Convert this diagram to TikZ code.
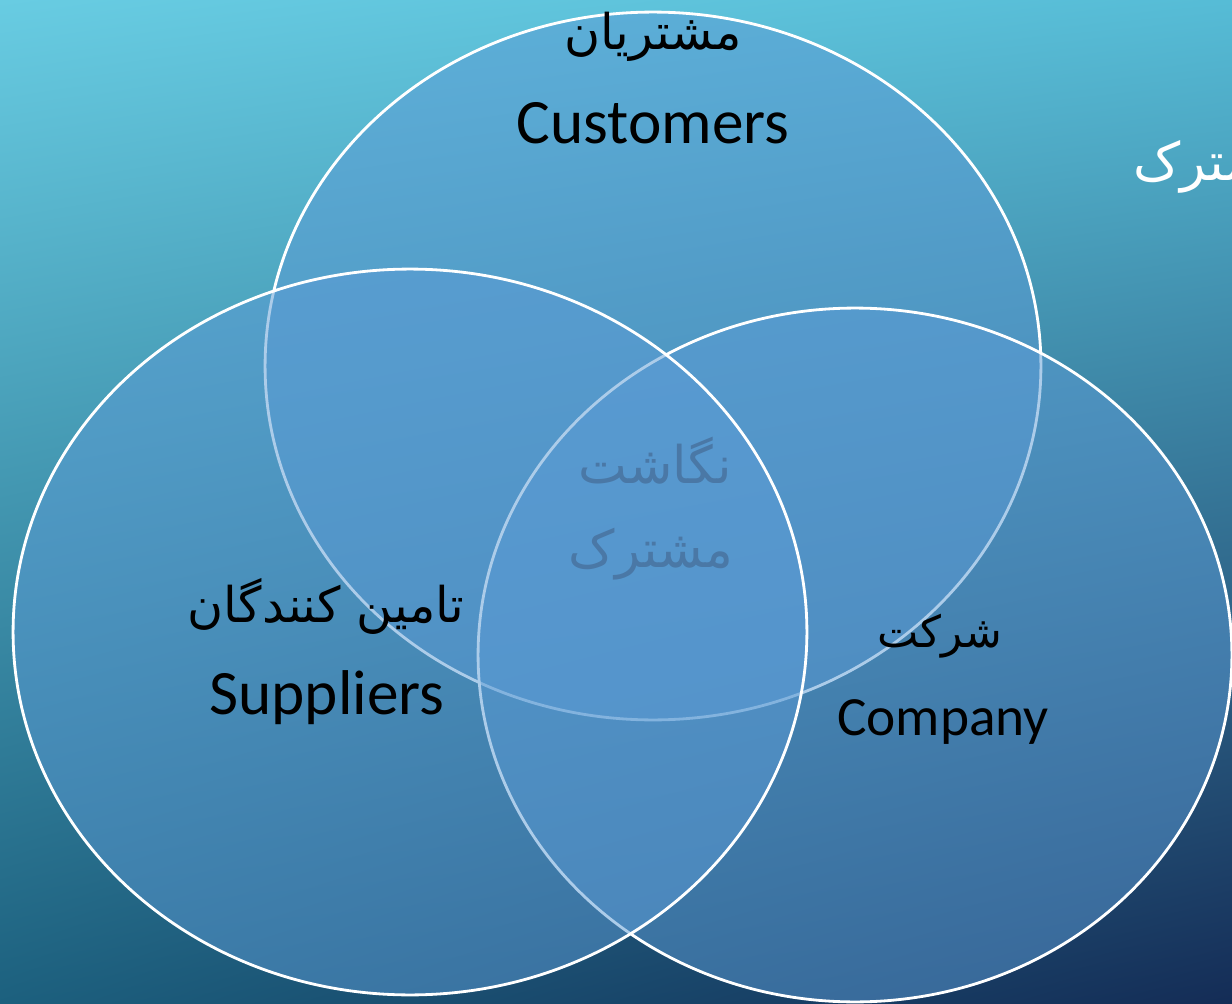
\documentclass[tikz,border=0pt]{standalone}
\usepackage{fontspec}
\setmainfont{Carlito}
\newfontfamily\arabicfont[Script=Arabic]{DejaVu Sans}
\TeXXeTstate=1
\usetikzlibrary{shapes.geometric,shadings}

\definecolor{bgtl}{RGB}{104,204,226}
\definecolor{bgtr}{RGB}{86,188,214}
\definecolor{bgbl}{RGB}{28,96,126}
\definecolor{bgbr}{RGB}{20,44,86}
\definecolor{setblue}{RGB}{91,155,213}
\definecolor{faint}{RGB}{74,120,166}

\begin{document}
\begin{tikzpicture}[x=0.02cm,y=-0.02cm,
  set/.style={ellipse,draw=white,line width=1.6pt,fill=setblue,fill opacity=0.5,inner sep=0pt},
  latin node/.style={anchor=base,font=\fontsize{#1}{40}\selectfont},
  latin node/.default=36,
  farsi node/.style={anchor=base,font=\arabicfont\fontsize{#1}{40}\selectfont},
  farsi node/.default=28]

\useasboundingbox (0,0) rectangle (1232,1004);
\clip (0,0) rectangle (1232,1004);
\shade[upper left=bgtl,upper right=bgtr,lower left=bgbl,lower right=bgbr] (0,0) rectangle (1232,1004);

\node[set,minimum width=15.52cm,minimum height=14.16cm] (1) at (653,366) {};
\node[set,minimum width=15.08cm,minimum height=13.88cm] (2) at (855,655) {};
\node[set,minimum width=15.88cm,minimum height=14.52cm] (3) at (410,632) {};

\node[farsi node] (1a) at (653,50) {\beginR مشتریان\endR};
\node[latin node] (1b) at (653,143) {Customers};
\node[farsi node=25] (2a) at (940,647) {\beginR شرکت\endR};
\node[latin node=31.5] (2b) at (943,735) {Company};
\node[farsi node] (3a) at (326,622) {\beginR تامین کنندگان\endR};
\node[latin node] (3b) at (327,714) {Suppliers};
\node[farsi node=29.5,text=faint] (4a) at (655,483) {\beginR نگاشت\endR};
\node[farsi node=29.5,text=faint] (4b) at (651,567) {\beginR مشترک\endR};
\node[farsi node=30,text=white,anchor=base west] (5) at (1127,180) {\beginR مشترک\endR};

\end{tikzpicture}
\end{document}
